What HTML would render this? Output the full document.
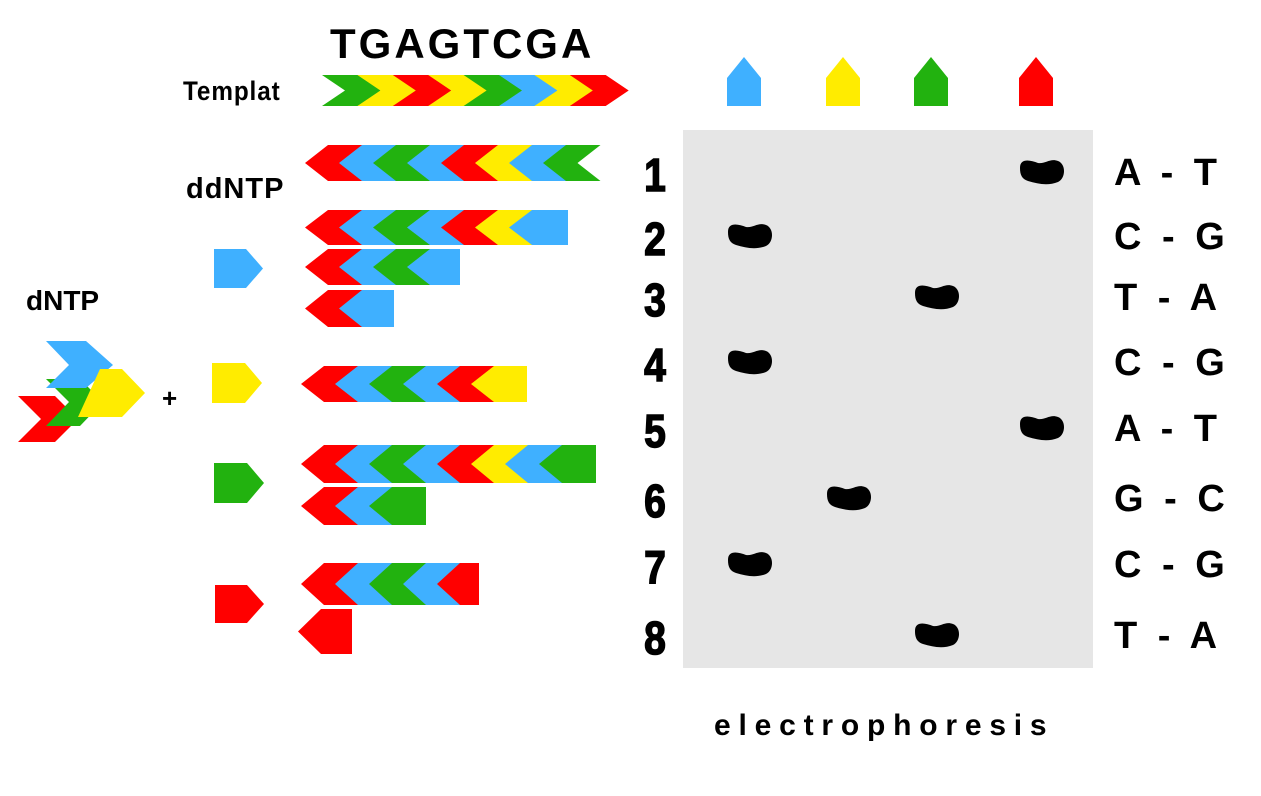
<!DOCTYPE html>
<html><head><meta charset="utf-8"><style>
html,body{margin:0;padding:0;background:#fff;width:1261px;height:796px;overflow:hidden}
svg{display:block}
text{font-family:"Liberation Sans",sans-serif;font-weight:bold;fill:#000}
</style></head><body>
<svg id="s" width="1261" height="796" viewBox="0 0 1261 796">
<rect x="683" y="130" width="410" height="538" fill="#e6e6e6"/>
<text x="330" y="58" font-size="42" letter-spacing="3">TGAGTCGA</text>
<text x="183" y="100" font-size="27" transform="translate(183,100) scale(0.9,1) translate(-183,-100)" letter-spacing="1">Templat</text>
<text x="186" y="198" font-size="29" letter-spacing="1">ddNTP</text>
<text x="26" y="310" font-size="28">dNTP</text>
<text x="162" y="407" font-size="26">+</text>
<text x="714" y="735" font-size="30" letter-spacing="7.8">electrophoresis</text>
<g id="g"></g>
</svg>
<script>
const COL={A:"#ff0000",C:"#3fb0ff",G:"#22b20f",T:"#ffec00"};
// base colour coding: red=A, blue=C, green=G, yellow=T
const templateSeq=["G","T","A","T","G","C","T","A"];
const fragments=[
 {seq:["A","C","G","C","A","T","C","G"],y:145,h:36,x:305,notch:true},
 {seq:["A","C","G","C","A","T","C"],y:210,h:35,x:305,end:568},
 {seq:["A","C","G","C"],y:249,h:36,x:305,end:460},
 {seq:["A","C"],y:290,h:37,x:305,end:394},
 {seq:["A","C","G","C","A","T"],y:366,h:36,x:301,end:527},
 {seq:["A","C","G","C","A","T","C","G"],y:445,h:38,x:301,end:596},
 {seq:["A","C","G"],y:487,h:38,x:301,end:426},
 {seq:["A","C","G","C","A"],y:563,h:42,x:301,end:479},
 {seq:["A"],y:609,h:45,x:298,end:352}
];
const ddntps=[["C",214,249,49,39],["T",212,363,50,40],["G",214,463,50,40],["A",215,585,49,38]];
const laneBases=["C","T","G","A"];
const laneX=[744,843,931,1036];
const bandLanes=[3,0,2,0,3,1,0,2];
const bandY=[172,236,297,362,428,498,564,635];
const pairLabels=["A - T","C - G","T - A","C - G","A - T","G - C","C - G","T - A"];
const g=document.getElementById('g');
const NS="http://www.w3.org/2000/svg";
function poly(pts,fill,name){const p=document.createElementNS(NS,'polygon');p.setAttribute('points',pts.map(a=>a.join(',')).join(' '));p.setAttribute('fill',fill);


g.appendChild(p);return p;}
{const x0=322,w=35.4,d=23,t=75,b=106,m=(t+b)/2;
templateSeq.forEach((c,i)=>{const L=x0+i*w;poly([[L,t],[L+w+0.5,t],[L+w+d+0.5,m],[L+w+0.5,b],[L,b],[L+d,m]],COL[c],'template-segment');});}
fragments.forEach(f=>{const w=34,d=23,t=f.y,b=f.y+f.h,m=(t+b)/2;
f.seq.forEach((c,i)=>{const L=f.x+i*w;const last=i===f.seq.length-1;
if(last&&!f.notch){poly([[L,m],[L+d,t],[f.end,t],[f.end,b],[L+d,b]],COL[c],'fragment-segment');}
else poly([[L,m],[L+d,t],[L+d+w+0.5,t],[L+w+0.5,m],[L+d+w+0.5,b],[L+d,b]],COL[c],'fragment-segment');});});
ddntps.forEach(([c,x,y,w,h])=>{poly([[x,y],[x+w-17,y],[x+w,y+h/2],[x+w-17,y+h],[x,y+h]],COL[c],'ddntp-'+c);});
poly([[18,396],[55,396],[78,419],[55,442],[18,442],[41,419]],COL.A,'dntp-a');
poly([[46,379],[80,379],[103,402],[80,426],[46,426],[69,402]],COL.G,'dntp-g');
poly([[46,341],[86,341],[113,365],[86,388],[46,388],[69,365]],COL.C,'dntp-c');
poly([[100,369],[122,369],[145,393],[122,417],[78,417]],COL.T,'dntp-t');
laneX.forEach((x,i)=>{poly([[x-17,78],[x,57],[x+17,78],[x+17,106],[x-17,106]],COL[laneBases[i]],'lane-marker-'+laneBases[i]);});
bandLanes.forEach((ln,i)=>{const cx=laneX[ln]+6,cy=bandY[i];
const p=document.createElementNS(NS,'path');
p.setAttribute('d',`M${cx-22},${cy-4} C${cx-22},${cy-14} ${cx-12},${cy-12} ${cx-4},${cy-9} C${cx+4},${cy-8} ${cx+8},${cy-14} ${cx+16},${cy-11} C${cx+24},${cy-8} ${cx+24},${cy+6} ${cx+16},${cy+10} C${cx+6},${cy+14} ${cx-4},${cy+12} ${cx-14},${cy+9} C${cx-20},${cy+7} ${cx-22},${cy+3} ${cx-22},${cy-4} Z`);
p.setAttribute('fill','#000');


g.appendChild(p);
const n=document.createElementNS(NS,'text');n.textContent=String(i+1);
n.setAttribute('font-size','46');n.setAttribute('text-anchor','middle');
n.setAttribute('stroke','#000');n.setAttribute('stroke-width','1.5');
n.setAttribute('transform',`translate(655,${cy+19}) scale(0.85,1)`);


g.appendChild(n);
const t=document.createElementNS(NS,'text');t.textContent=pairLabels[i];
t.setAttribute('x','1114');t.setAttribute('y',cy+13);t.setAttribute('font-size','38');
t.setAttribute('letter-spacing','5');


g.appendChild(t);});
</script>
</body></html>
